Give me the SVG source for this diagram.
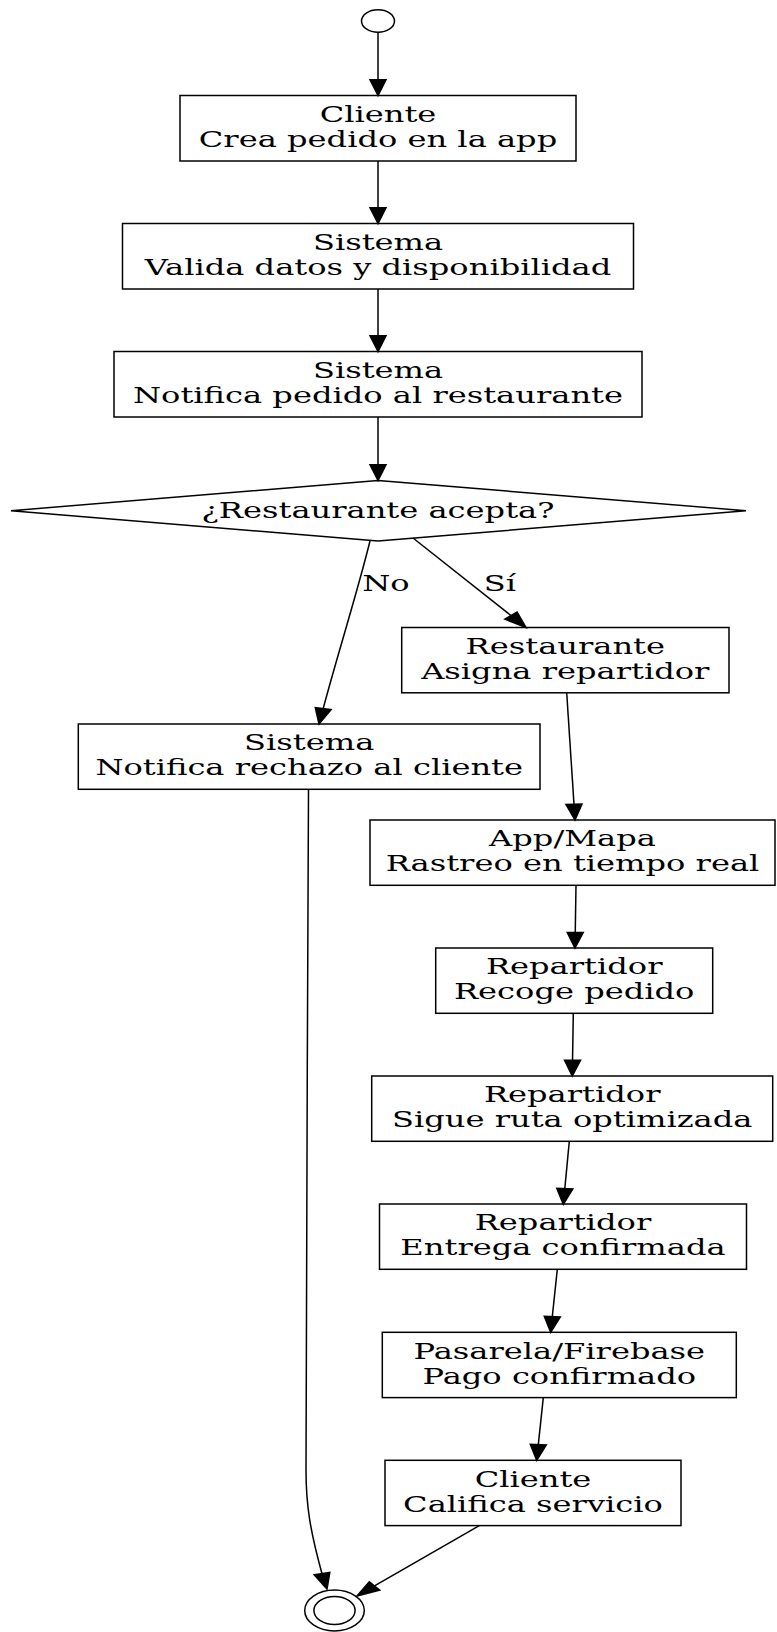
<svg xmlns="http://www.w3.org/2000/svg" width="777" height="1632" viewBox="0 0 777 1632">
<style>
.box{fill:#fff;stroke:#000;stroke-width:1.5}
.edge{fill:none;stroke:#000;stroke-width:1.5}
.head{fill:#000;stroke:#000;stroke-width:1.5}
.t{font-family:"DejaVu Serif","Liberation Serif",serif;font-size:22px;fill:#000;text-anchor:middle}
</style>
<rect width="777" height="1632" fill="#fff"/>
<g id="start"><ellipse class="box" cx="378" cy="21" rx="16.5" ry="11.3"/></g>
<g id="n1"><rect class="box" x="180" y="95.5" width="396" height="65.5"/>
<text class="t" transform="translate(378,121.8) scale(1.46,1)">Cliente</text>
<text class="t" transform="translate(378,146.9) scale(1.46,1)">Crea pedido en la app</text></g>
<g id="n2"><rect class="box" x="122.5" y="223.5" width="511" height="65.5"/>
<text class="t" transform="translate(378,249.8) scale(1.46,1)">Sistema</text>
<text class="t" transform="translate(378,274.9) scale(1.46,1)">Valida datos y disponibilidad</text></g>
<g id="n3"><rect class="box" x="114" y="351.5" width="528" height="65.5"/>
<text class="t" transform="translate(378,377.8) scale(1.46,1)">Sistema</text>
<text class="t" transform="translate(378,402.9) scale(1.46,1)">Notifica pedido al restaurante</text></g>
<g id="dec"><polygon class="box" points="378,480.5 746,510.7 378,541 11,510.7"/>
<text class="t" transform="translate(378,517.8) scale(1.46,1)">¿Restaurante acepta?</text></g>
<g id="n4"><rect class="box" x="401.7" y="627.5" width="327.3" height="65.3"/>
<text class="t" transform="translate(565.3,653.8) scale(1.46,1)">Restaurante</text>
<text class="t" transform="translate(565.3,678.9) scale(1.46,1)">Asigna repartidor</text></g>
<g id="n5"><rect class="box" x="78.3" y="724" width="461.7" height="65.3"/>
<text class="t" transform="translate(309.2,750.3) scale(1.46,1)">Sistema</text>
<text class="t" transform="translate(309.2,775.4) scale(1.46,1)">Notifica rechazo al cliente</text></g>
<g id="n6"><rect class="box" x="370" y="820" width="405" height="65.3"/>
<text class="t" transform="translate(572.5,846.3) scale(1.46,1)">App/Mapa</text>
<text class="t" transform="translate(572.5,871.4) scale(1.46,1)">Rastreo en tiempo real</text></g>
<g id="n7"><rect class="box" x="435.7" y="948" width="277" height="65.3"/>
<text class="t" transform="translate(574.2,974.3) scale(1.46,1)">Repartidor</text>
<text class="t" transform="translate(574.2,999.4) scale(1.46,1)">Recoge pedido</text></g>
<g id="n8"><rect class="box" x="371.7" y="1076" width="401" height="65.3"/>
<text class="t" transform="translate(572.2,1102.3) scale(1.46,1)">Repartidor</text>
<text class="t" transform="translate(572.2,1127.4) scale(1.46,1)">Sigue ruta optimizada</text></g>
<g id="n9"><rect class="box" x="379.5" y="1204" width="367" height="65.3"/>
<text class="t" transform="translate(563,1230.3) scale(1.46,1)">Repartidor</text>
<text class="t" transform="translate(563,1255.4) scale(1.46,1)">Entrega confirmada</text></g>
<g id="n10"><rect class="box" x="382.3" y="1332.3" width="354" height="65.3"/>
<text class="t" transform="translate(559.3,1358.6) scale(1.46,1)">Pasarela/Firebase</text>
<text class="t" transform="translate(559.3,1383.7) scale(1.46,1)">Pago confirmado</text></g>
<g id="n11"><rect class="box" x="385" y="1460.3" width="296" height="65.3"/>
<text class="t" transform="translate(533,1486.6) scale(1.46,1)">Cliente</text>
<text class="t" transform="translate(533,1511.7) scale(1.46,1)">Califica servicio</text></g>
<g id="end"><ellipse class="box" cx="334.5" cy="1610.5" rx="29.8" ry="20.4"/><ellipse class="box" cx="334.5" cy="1610.5" rx="20.6" ry="14.1"/></g>
<g id="edges">
<path class="edge" d="M378,32.3 L378,79.8"/><polygon class="head" points="378,95.5 370,79.8 386,79.8"/>
<path class="edge" d="M378,161 L378,207.8"/><polygon class="head" points="378,223.5 370,207.8 386,207.8"/>
<path class="edge" d="M378,289 L378,335.8"/><polygon class="head" points="378,351.5 370,335.8 386,335.8"/>
<path class="edge" d="M378,417 L378,464.8"/><polygon class="head" points="378,480.5 370,464.8 386,464.8"/>
<path class="edge" d="M370,541 C358,590 336,660 323.2,708.6"/><polygon class="head" points="319,724 331.1,709.6 315.3,707.6"/>
<text class="t" transform="translate(386,590.5) scale(1.46,1)">No</text>
<path class="edge" d="M413,538 L511,615.6"/><polygon class="head" points="526,627.5 504.9,619.2 517.1,612"/>
<text class="t" transform="translate(500,590.7) scale(1.46,1)">Sí</text>
<path class="edge" d="M566.7,692.8 L574,804.3"/><polygon class="head" points="575,820 582,804.05 566,804.55"/>
<path class="edge" d="M576,885.3 L575.25,932.6"/><polygon class="head" points="575,948 583.25,932.6 567.25,932.6"/>
<path class="edge" d="M573.3,1013.3 L572.55,1060.3"/><polygon class="head" points="572.3,1076 580.55,1060.35 564.55,1060.25"/>
<path class="edge" d="M569.3,1141.3 L564.8,1188.6"/><polygon class="head" points="563.3,1204.3 572.8,1189 556.8,1188.2"/>
<path class="edge" d="M557.3,1269.3 L552.3,1316.6"/><polygon class="head" points="550.7,1332.3 560.3,1317 544.3,1316.2"/>
<path class="edge" d="M543.3,1397.6 L538.3,1444.6"/><polygon class="head" points="536.7,1460.3 546.3,1445 530.3,1444.2"/>
<path class="edge" d="M479.3,1525.6 L374.5,1585.9"/><polygon class="head" points="357,1596 379.7,1590.1 369.3,1581.7"/>
<path class="edge" d="M308.5,789.3 C307.5,1000 306,1380 306,1470 C306,1505 310,1530 322,1573.7"/><polygon class="head" points="327,1589 329.8,1572.5 314.2,1574.9"/>
</g>
</svg>
